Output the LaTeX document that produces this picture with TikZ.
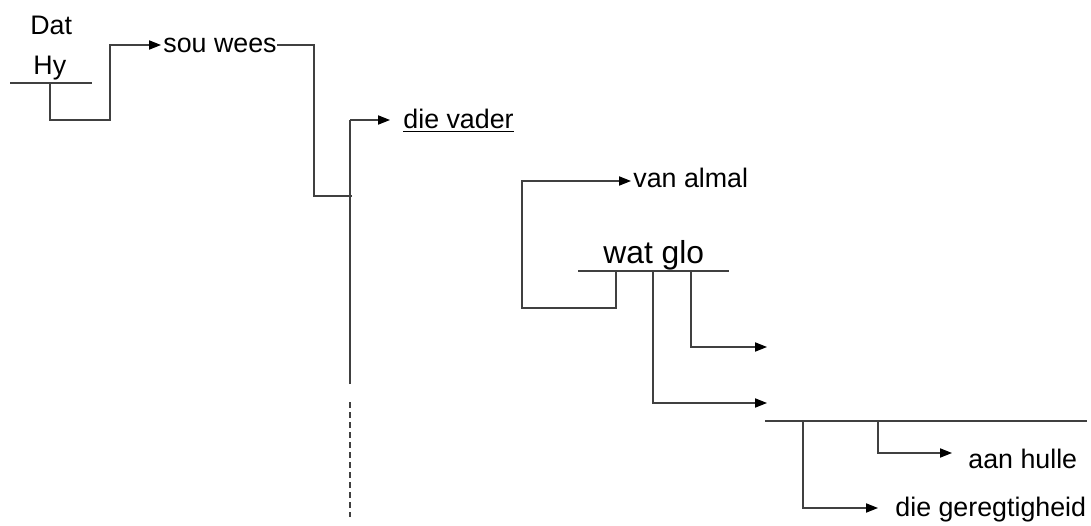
\documentclass[tikz,border=0pt]{standalone}
\usepackage{fontspec}
\setmainfont{Liberation Sans}
\usetikzlibrary{arrows.meta, positioning}
\tikzstyle{line} = [draw, black!75, line width=0.6pt]

\begin{document}
\begin{tikzpicture}[x=0.5pt, y=-0.5pt,
  word/.style={inner sep=0pt, anchor=base west, font=\fontsize{13.4}{15}\selectfont},
  big/.style={inner sep=0pt, anchor=base west, font=\fontsize{15.9}{18}\selectfont},
  arr/.style={line, -{Triangle[length=6pt,width=4.6pt,black]}}]

    \useasboundingbox (0,0) rectangle (1091,525);

    % words
    \node[word] (dat) at (30,34) {Dat};
    \node[word] (hy) at (33,74) {Hy};
    \node[word] (souwees) at (163,52) {sou wees};
    \node[word] (vader) at (403,128) {\underline{die vader}};
    \node[word] (almal) at (633,187) {van almal};
    \node[big] (watglo) at (603,263) {wat glo};
    \node[word] (hulle) at (968,468) {aan hulle};
    \node[word] (geregtig) at (895,516) {die geregtigheid};

    % joints
    \coordinate (hyL) at (10,83);
    \coordinate (hyR) at (92,83);
    \coordinate (hyFoot) at (50,83);
    \coordinate (k1) at (110,120);
    \coordinate (souIn) at (161,45);
    \coordinate (k2) at (314,196);
    \coordinate (k3) at (352,196);
    \coordinate (spineTop) at (350,120);
    \coordinate (spineEnd) at (350,384);
    \coordinate (dashTop) at (350,402);
    \coordinate (dashEnd) at (350,517);
    \coordinate (vaderIn) at (390,120);
    \coordinate (almalIn) at (631,181);
    \coordinate (k4) at (522,308);
    \coordinate (wgL) at (578,271);
    \coordinate (wgR) at (729,271);
    \coordinate (wgA) at (616,271);
    \coordinate (wgB) at (653,271);
    \coordinate (wgC) at (691,271);
    \coordinate (outB) at (767,403);
    \coordinate (outC) at (767,347);
    \coordinate (botL) at (765,421);
    \coordinate (botR) at (1087,421);
    \coordinate (botA) at (803,421);
    \coordinate (botB) at (878,421);
    \coordinate (geregIn) at (878,508);
    \coordinate (hulleIn) at (952,453);

    % Hy -- sou wees
    \draw[line] (hyL) -- (hyR);
    \draw[arr] (hyFoot) |- (k1) |- (souIn);
    \draw[line] (souwees.east) -| (k2) -- (k3);

    % die vader
    \draw[line] (spineEnd) -- (spineTop);
    \draw[arr] (spineTop) -- (vaderIn);
    \draw[line, dash pattern=on 3pt off 2pt] (dashTop) -- (dashEnd);

    % wat glo
    \draw[line] (wgL) -- (wgR);
    \draw[arr] (wgA) |- (k4) |- (almalIn);
    \draw[arr] (wgB) |- (outB);
    \draw[arr] (wgC) |- (outC);

    % die geregtigheid
    \draw[line] (botL) -- (botR);
    \draw[arr] (botA) |- (geregIn);
    \draw[arr] (botB) |- (hulleIn);

\end{tikzpicture}
\end{document}
